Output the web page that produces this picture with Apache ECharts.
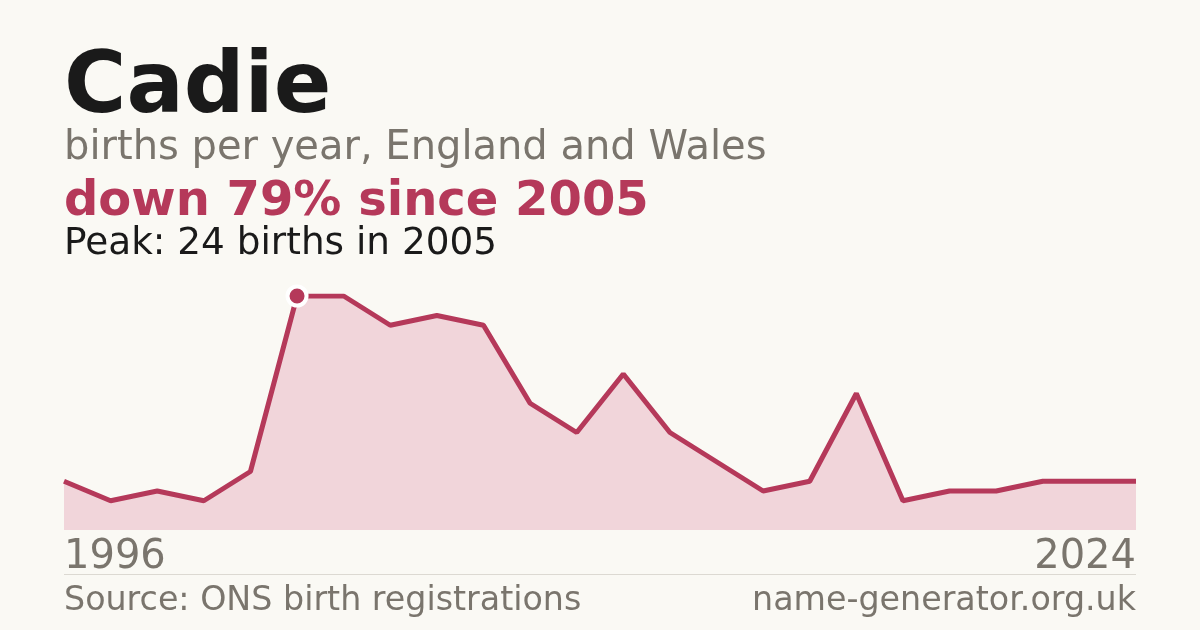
<!DOCTYPE html>
<html>
<head>
<meta charset="utf-8">
<script src="https://cdn.jsdelivr.net/npm/echarts@6/dist/echarts.min.js"></script>
<style>
html,body{margin:0;padding:0;background:#faf9f4;}
#c{width:1200px;height:630px;}
</style>
</head>
<body>
<div id="c"></div>
<script>
const years = ['1996','1998','2000','2002','2003','2005','2006','2007','2008','2009','2010','2011','2012','2013','2014','2015','2016','2017','2018','2019','2020','2021','2022','2024'];
const births = [5,3,4,3,6,24,24,21,22,21,13,10,16,10,7,4,5,14,3,4,4,5,5,5];
const peakIndex = 5;

const RED = '#b5395a';
const GRAY = '#7a756d';
const DARK = '#1a1a1a';
const FONT = 'DejaVu Sans';

const chart = echarts.init(document.getElementById('c'), null, {renderer:'canvas'});
const last = years.length - 1;
const seriesData = births.map((v,i)=> i===peakIndex ? {value:v, symbol:'circle', symbolSize:19, itemStyle:{color:RED, borderColor:'#ffffff', borderWidth:4}} : v);

chart.setOption({
  backgroundColor:'#faf9f4',
  animation:false,
  grid:{left:64,right:64,top:296,bottom:100},
  xAxis:{
    type:'category', data:years, boundaryGap:false,
    axisLine:{show:false}, axisTick:{show:false}, splitLine:{show:false},
    axisLabel:{
      interval:(i)=> i===0 || i===last,
      alignMinLabel:'left', alignMaxLabel:'right',
      color:GRAY, fontFamily:FONT, fontSize:40, margin:8
    }
  },
  yAxis:{type:'value', min:0, max:24, show:false, splitLine:{show:false}},
  series:[{
    type:'line', data:seriesData, symbol:'none', showSymbol:true,
    lineStyle:{color:RED, width:5},
    areaStyle:{color:'#f1d5da', opacity:1},
    itemStyle:{color:RED}
  }],
  graphic:[
    {type:'text', left:64, top:47, style:{text:'Cadie', font:'bold 85px "DejaVu Sans"', fill:DARK}},
    {type:'text', left:64, top:129, style:{text:'births per year, England and Wales', font:'40px "DejaVu Sans"', fill:GRAY}},
    {type:'text', left:64, top:179, style:{text:'down 79% since 2005', font:'bold 48px "DejaVu Sans"', fill:RED}},
    {type:'text', left:64, top:226, style:{text:'Peak: 24 births in 2005', font:'37.4px "DejaVu Sans"', fill:DARK}},
    {type:'line', shape:{x1:64,y1:574.5,x2:1136,y2:574.5}, style:{stroke:'#dcd9d2', lineWidth:1}},
    {type:'text', left:64, top:585, style:{text:'Source: ONS birth registrations', font:'33.3px "DejaVu Sans"', fill:GRAY}},
    {type:'text', right:64, top:585, style:{text:'name-generator.org.uk', font:'33.3px "DejaVu Sans"', fill:GRAY}}
  ]
});
</script>
</body>
</html>
